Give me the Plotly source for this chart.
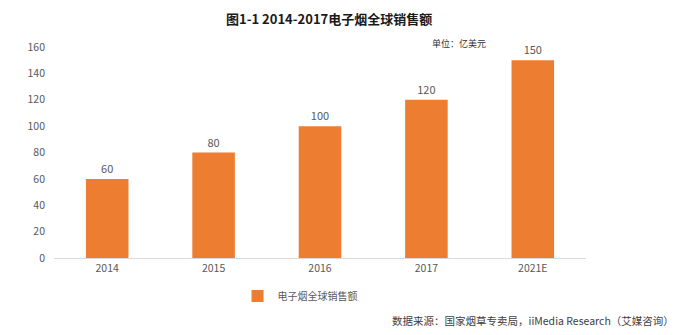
import plotly.graph_objects as go

years = ["2014", "2015", "2016", "2017", "2021E"]
sales = [60, 80, 100, 120, 150]
y_ticks = [0, 20, 40, 60, 80, 100, 120, 140, 160]
series_name = "电子烟全球销售额"
title_text = "图1-1 2014-2017电子烟全球销售额"
unit_text = "单位：亿美元"
source_text = "数据来源：国家烟草专卖局，iiMedia Research（艾媒咨询）"

font_cjk = "Noto Sans CJK SC, Microsoft YaHei, sans-serif"
orange = "#ED7D31"
gray = "#595959"

fig = go.Figure()
fig.add_trace(go.Bar(
    x=years, y=sales, name=series_name,
    marker=dict(color=orange, line=dict(width=0)),
    width=0.4,
    text=[str(v) for v in sales], textposition="outside",
    textfont=dict(size=11, color=gray, family=font_cjk),
    cliponaxis=False,
))

fig.update_layout(
    width=677, height=335,
    margin=dict(l=54, r=91, t=47, b=77),
    paper_bgcolor="white", plot_bgcolor="white",
    showlegend=True,
    legend=dict(orientation="h", x=0.345, xref="paper", y=-0.18, yanchor="middle",
                xanchor="left", font=dict(size=10, color=gray, family=font_cjk),
                itemwidth=30),
    font=dict(family=font_cjk, color=gray),
    bargap=0.6,
)
fig.update_xaxes(
    type="category", showgrid=False, showline=True, linecolor="#D9D9D9",
    linewidth=1, ticks="", tickfont=dict(size=10.5, color=gray),
)
fig.update_yaxes(
    range=[0, 160], tickvals=y_ticks, showgrid=False, zeroline=False,
    showline=False, tickfont=dict(size=10.5, color=gray), ticklabelstandoff=8,
)

fig.add_annotation(text="<b>" + title_text + "</b>", xref="paper", yref="paper",
                   x=0.517, y=1.0, yshift=29, yanchor="middle", showarrow=False,
                   font=dict(size=13, color="#1a1a1a", family=font_cjk))
fig.add_annotation(text=unit_text, xref="paper", yref="paper",
                   x=0.707, y=1.0, yshift=4, xanchor="left", yanchor="middle",
                   showarrow=False,
                   font=dict(size=9, color="#333333", family=font_cjk))
fig.add_annotation(text=source_text, xref="paper", yref="paper",
                   x=1.169, y=-0.294, xanchor="right", yanchor="middle", showarrow=False,
                   font=dict(size=10.5, color="#404040", family=font_cjk))

fig.write_html("out.html")
